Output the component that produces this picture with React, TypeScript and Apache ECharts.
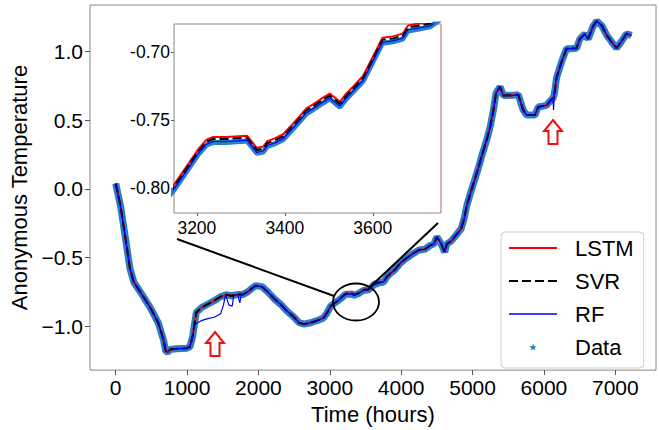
import React, { useEffect, useRef } from 'react';
import * as echarts from 'echarts';

// ---- data ----
const hours = [
  0, 70, 140, 200, 255, 370, 490, 600, 670, 700,
  730, 760, 850, 1000, 1040, 1080, 1100, 1130, 1200, 1290,
  1380, 1470, 1510, 1540, 1585, 1632, 1655, 1710, 1739, 1760,
  1780, 1850, 1920, 1960, 2050, 2130, 2220, 2310, 2400, 2490,
  2570, 2640, 2730, 2820, 2910, 2960, 3010, 3060, 3100, 3148,
  3161, 3184, 3203, 3222, 3237, 3267, 3314, 3324, 3336, 3351,
  3360, 3377, 3396, 3419, 3449, 3464, 3487, 3502, 3525, 3540,
  3555, 3578, 3597, 3622, 3646, 3668, 3680, 3714, 3730, 3760,
  3800, 3850, 3900, 3990, 4060, 4170, 4250, 4330, 4410, 4460,
  4500, 4560, 4610, 4640, 4700, 4780, 4840, 4880, 4920, 4965,
  5020, 5080, 5140, 5200, 5250, 5290, 5330, 5385, 5431, 5500,
  5547, 5640, 5710, 5757, 5874, 5920, 6037, 6093, 6125, 6135,
  6145, 6177, 6250, 6317, 6380, 6457, 6503, 6573, 6620, 6690,
  6740, 6810, 6880, 6950, 7016, 7080, 7156, 7190, 7226,
];

const dataValues = [
  0.04, -0.13, -0.37, -0.58, -0.68, -0.77, -0.87, -0.98, -1.1, -1.18,
  -1.19, -1.17, -1.165, -1.16, -1.15, -1.07, -1.0, -0.9, -0.865, -0.84,
  -0.815, -0.785, -0.78, -0.77, -0.775, -0.78, -0.775, -0.77, -0.77, -0.77,
  -0.77, -0.75, -0.72, -0.705, -0.712, -0.75, -0.8, -0.84, -0.89, -0.93,
  -0.975, -0.985, -0.975, -0.96, -0.94, -0.905, -0.855, -0.835, -0.82, -0.8015,
  -0.7955, -0.7845, -0.7755, -0.7685, -0.7665, -0.7665, -0.7655, -0.7695, -0.7745, -0.7735,
  -0.7695, -0.7675, -0.7645, -0.7565, -0.7455, -0.7425, -0.7375, -0.7345, -0.7405, -0.7345,
  -0.7295, -0.7215, -0.7095, -0.6935, -0.6925, -0.6905, -0.6845, -0.6825, -0.6815, -0.6745,
  -0.64, -0.615, -0.595, -0.54, -0.51, -0.47, -0.445, -0.44, -0.41, -0.4,
  -0.35, -0.4, -0.46, -0.4, -0.38, -0.33, -0.29, -0.22, -0.12, -0.04,
  0.05, 0.15, 0.26, 0.36, 0.46, 0.57, 0.7, 0.744, 0.68, 0.682,
  0.68, 0.687, 0.574, 0.538, 0.538, 0.597, 0.609, 0.644, 0.66, 0.675,
  0.69, 0.81, 0.93, 1.022, 1.022, 1.025, 1.093, 1.128, 1.093, 1.187,
  1.222, 1.19, 1.12, 1.07, 1.025, 1.07, 1.13, 1.125, 1.118,
];

const lstmValues = [
  0.04, -0.13, -0.37, -0.58, -0.68, -0.77, -0.87, -0.98, -1.1, -1.18,
  -1.19, -1.17, -1.165, -1.16, -1.15, -1.07, -1.0, -0.9, -0.865, -0.84,
  -0.815, -0.785, -0.78, -0.77, -0.775, -0.78, -0.775, -0.77, -0.77, -0.77,
  -0.77, -0.75, -0.72, -0.705, -0.712, -0.75, -0.8, -0.84, -0.89, -0.93,
  -0.975, -0.985, -0.975, -0.96, -0.94, -0.905, -0.855, -0.835, -0.82, -0.7975,
  -0.7915, -0.7805, -0.7715, -0.7645, -0.7625, -0.7625, -0.7615, -0.7655, -0.7705, -0.7695,
  -0.7655, -0.7635, -0.7605, -0.7525, -0.7415, -0.7385, -0.7335, -0.7305, -0.7365, -0.7305,
  -0.7255, -0.7175, -0.7055, -0.6895, -0.6885, -0.6865, -0.6805, -0.6785, -0.6775, -0.6705,
  -0.64, -0.615, -0.595, -0.54, -0.51, -0.47, -0.445, -0.44, -0.41, -0.4,
  -0.35, -0.4, -0.46, -0.4, -0.38, -0.33, -0.29, -0.22, -0.12, -0.04,
  0.05, 0.15, 0.26, 0.36, 0.46, 0.57, 0.7, 0.744, 0.68, 0.682,
  0.68, 0.687, 0.574, 0.538, 0.538, 0.597, 0.609, 0.644, 0.66, 0.675,
  0.69, 0.81, 0.93, 1.022, 1.022, 1.025, 1.093, 1.128, 1.093, 1.187,
  1.222, 1.19, 1.12, 1.07, 1.025, 1.07, 1.13, 1.125, 1.118,
];

const svrValues = [
  0.04, -0.13, -0.37, -0.58, -0.68, -0.77, -0.87, -0.98, -1.1, -1.18,
  -1.19, -1.17, -1.165, -1.16, -1.15, -1.07, -1.0, -0.9, -0.865, -0.84,
  -0.815, -0.785, -0.78, -0.77, -0.775, -0.78, -0.775, -0.77, -0.77, -0.77,
  -0.77, -0.75, -0.72, -0.705, -0.712, -0.75, -0.8, -0.84, -0.89, -0.93,
  -0.975, -0.985, -0.975, -0.96, -0.94, -0.905, -0.855, -0.835, -0.82, -0.799,
  -0.793, -0.782, -0.773, -0.766, -0.764, -0.764, -0.763, -0.767, -0.772, -0.771,
  -0.767, -0.765, -0.762, -0.754, -0.743, -0.74, -0.735, -0.732, -0.738, -0.732,
  -0.727, -0.719, -0.707, -0.691, -0.69, -0.688, -0.682, -0.68, -0.679, -0.672,
  -0.64, -0.615, -0.595, -0.54, -0.51, -0.47, -0.445, -0.44, -0.41, -0.4,
  -0.35, -0.4, -0.46, -0.4, -0.38, -0.33, -0.29, -0.22, -0.12, -0.04,
  0.05, 0.15, 0.26, 0.36, 0.46, 0.57, 0.7, 0.744, 0.68, 0.682,
  0.68, 0.687, 0.574, 0.538, 0.538, 0.597, 0.609, 0.644, 0.66, 0.675,
  0.69, 0.81, 0.93, 1.022, 1.022, 1.025, 1.093, 1.128, 1.093, 1.187,
  1.222, 1.19, 1.12, 1.07, 1.025, 1.07, 1.13, 1.125, 1.118,
];

const rfValues = [
  0.04, -0.13, -0.37, -0.58, -0.68, -0.77, -0.87, -0.98, -1.1, -1.18,
  -1.19, -1.17, -1.165, -1.16, -1.15, -1.07, -1.0, -0.98, -0.96, -0.945,
  -0.935, -0.91, -0.845, -0.77, -0.845, -0.855, -0.777, -0.77, -0.83, -0.77,
  -0.77, -0.75, -0.72, -0.705, -0.712, -0.75, -0.8, -0.84, -0.89, -0.93,
  -0.975, -0.985, -0.975, -0.96, -0.94, -0.905, -0.855, -0.835, -0.82, -0.8008,
  -0.7948, -0.7838, -0.7748, -0.7678, -0.7658, -0.7658, -0.7648, -0.7688, -0.7738, -0.7728,
  -0.7688, -0.7668, -0.7638, -0.7558, -0.7448, -0.7418, -0.7368, -0.7338, -0.7398, -0.7338,
  -0.7288, -0.7208, -0.7088, -0.6928, -0.6918, -0.6898, -0.6838, -0.6818, -0.6808, -0.6738,
  -0.64, -0.615, -0.595, -0.54, -0.51, -0.47, -0.445, -0.44, -0.41, -0.4,
  -0.35, -0.4, -0.46, -0.4, -0.38, -0.33, -0.29, -0.22, -0.12, -0.04,
  0.05, 0.15, 0.26, 0.36, 0.46, 0.57, 0.7, 0.744, 0.68, 0.682,
  0.68, 0.687, 0.574, 0.538, 0.538, 0.597, 0.609, 0.644, 0.66, 0.575,
  0.69, 0.81, 0.93, 1.022, 1.022, 1.025, 1.093, 1.128, 1.093, 1.187,
  1.222, 1.19, 1.12, 1.07, 1.025, 1.07, 1.13, 1.125, 1.118,
];

const xTicks = [0, 1000, 2000, 3000, 4000, 5000, 6000, 7000];
const yTicks = [-1.0, -0.5, 0.0, 0.5, 1.0];
const insetXTicks = [3200, 3400, 3600];
const insetYTicks = [-0.8, -0.75, -0.7];
const xName = 'Time (hours)';
const yName = 'Anonymous Temperature';

const pairs = (vals: number[]) => hours.map((h, i) => [h, vals[i]]);

const FONT = '"Liberation Sans", Arial, sans-serif';
const STAR =
  'path://M50,0 L61,35 L98,35 L68,57 L79,91 L50,70 L21,91 L32,57 L2,35 L39,35 Z';
const SOLID_ICON = 'path://M0,0 h48 v2.2 h-48 Z';
const THIN_ICON = 'path://M0,0 h48 v1.4 h-48 Z';
const DASH_ICON =
  'path://M0,0 h9 v2 h-9 Z M13,0 h9 v2 h-9 Z M26,0 h9 v2 h-9 Z M39,0 h9 v2 h-9 Z';

function upArrow(cx: number, top: number) {
  return {
    type: 'polygon',
    shape: {
      points: [
        [cx, top],
        [cx + 9, top + 11],
        [cx + 4.5, top + 11],
        [cx + 4.5, top + 24],
        [cx - 4.5, top + 24],
        [cx - 4.5, top + 11],
        [cx - 9, top + 11],
      ],
    },
    style: { fill: '#fff', stroke: '#ee1111', lineWidth: 2 },
    z: 20,
  };
}

export default function App() {
  const ref = useRef<HTMLDivElement>(null);

  useEffect(() => {
    if (!ref.current) return;
    const chart = echarts.init(ref.current, null, { renderer: 'svg' });

    const makeSeries = (g: number, bandWidth: number) => [
      {
        name: 'Data',
        type: 'line',
        xAxisIndex: g,
        yAxisIndex: g,
        data: pairs(dataValues),
        symbol: 'none',
        clip: true,
        lineStyle: { color: '#2a7fc0', width: bandWidth },
        itemStyle: { color: '#1f77b4' },
        z: 2,
      },
      {
        name: 'LSTM',
        type: 'line',
        xAxisIndex: g,
        yAxisIndex: g,
        data: pairs(lstmValues),
        symbol: 'none',
        clip: true,
        lineStyle: { color: '#ff0000', width: 2 },
        itemStyle: { color: '#ff0000' },
        z: 3,
      },
      {
        name: 'SVR',
        type: 'line',
        xAxisIndex: g,
        yAxisIndex: g,
        data: pairs(svrValues),
        symbol: 'none',
        clip: true,
        lineStyle: { color: '#000000', width: 2, type: [9, 4] },
        itemStyle: { color: '#000000' },
        z: 4,
      },
      {
        name: 'RF',
        type: 'line',
        xAxisIndex: g,
        yAxisIndex: g,
        data: pairs(rfValues),
        symbol: 'none',
        clip: true,
        lineStyle: { color: '#0000ff', width: 1.2 },
        itemStyle: { color: '#0000ff' },
        z: 5,
      },
    ];

    const tickStyle = { color: '#555' };

    chart.setOption({
      animation: false,
      backgroundColor: '#ffffff',
      grid: [
        {
          left: 90,
          top: 5,
          width: 566,
          height: 375,
          show: true,
          borderColor: '#888',
          borderWidth: 1,
          backgroundColor: 'transparent',
        },
        {
          left: 174,
          top: 24,
          width: 267,
          height: 189,
          show: true,
          borderColor: '#888',
          borderWidth: 1,
          backgroundColor: '#fff',
          z: 1,
        },
      ],
      xAxis: [
        {
          type: 'value',
          gridIndex: 0,
          position: 'bottom',
          min: -360,
          max: 7570,
          name: xName,
          nameLocation: 'middle',
          nameGap: 21,
          nameTextStyle: { fontSize: 22, color: '#000', fontFamily: FONT },
          axisLine: { show: false, onZero: false },
          splitLine: { show: false },
          axisTick: { show: true, length: 5, customValues: xTicks, lineStyle: tickStyle },
          axisLabel: {
            customValues: xTicks,
            fontSize: 21,
            color: '#000',
            margin: 7,
            fontFamily: FONT,
            formatter: (v: number) => String(v),
          },
        },
        {
          type: 'value',
          gridIndex: 1,
          position: 'bottom',
          min: 3148,
          max: 3755,
          axisLine: { show: false, onZero: false },
          splitLine: { show: false },
          axisTick: { show: true, length: 3, customValues: insetXTicks, lineStyle: tickStyle },
          axisLabel: {
            customValues: insetXTicks,
            fontSize: 17.5,
            color: '#000',
            margin: 6,
            fontFamily: FONT,
            formatter: (v: number) => String(v),
          },
        },
      ],
      yAxis: [
        {
          type: 'value',
          gridIndex: 0,
          position: 'left',
          min: -1.32,
          max: 1.34,
          name: yName,
          nameLocation: 'middle',
          nameGap: 54,
          nameTextStyle: { fontSize: 22, color: '#000', fontFamily: FONT },
          axisLine: { show: false, onZero: false },
          splitLine: { show: false },
          axisTick: { show: true, length: 5, customValues: yTicks, lineStyle: tickStyle },
          axisLabel: {
            customValues: yTicks,
            fontSize: 21,
            color: '#000',
            margin: 7,
            fontFamily: FONT,
            formatter: (v: number) =>
              (v < 0 ? '\u2212' : '') + Math.abs(v).toFixed(1),
          },
        },
        {
          type: 'value',
          gridIndex: 1,
          position: 'left',
          min: -0.8184,
          max: -0.6794,
          axisLine: { show: false, onZero: false },
          splitLine: { show: false },
          axisTick: { show: true, length: 3, customValues: insetYTicks, lineStyle: tickStyle },
          axisLabel: {
            customValues: insetYTicks,
            fontSize: 17.5,
            color: '#000',
            margin: 4,
            fontFamily: FONT,
            formatter: (v: number) => v.toFixed(2),
          },
        },
      ],
      legend: {
        orient: 'vertical',
        left: 501,
        top: 232,
        itemWidth: 48,
        itemHeight: 7,
        itemGap: 11,
        padding: [5, 10, 10, 8],
        selectedMode: false,
        backgroundColor: 'rgba(255,255,255,0.85)',
        borderColor: '#cfcfcf',
        borderWidth: 1,
        borderRadius: 4,
        textStyle: {
          fontSize: 22,
          lineHeight: 22,
          color: '#000',
          fontFamily: FONT,
          padding: [0, 0, 0, 13],
        },
        data: [
          { name: 'LSTM', icon: SOLID_ICON, itemStyle: { color: '#ff0000' } },
          { name: 'SVR', icon: DASH_ICON, itemStyle: { color: '#000000' } },
          { name: 'RF', icon: THIN_ICON, itemStyle: { color: '#0000ff' } },
          { name: 'Data', icon: STAR, itemStyle: { color: '#1f77b4' } },
        ],
      },
      series: [...makeSeries(0, 7), ...makeSeries(1, 5)],
      graphic: {
        elements: [
          {
            type: 'line',
            shape: { x1: 441, y1: 24, x2: 441, y2: 213 },
            style: { stroke: '#ff9d9d', lineWidth: 1 },
            z: 20,
          },
          {
            type: 'line',
            shape: { x1: 177, y1: 239, x2: 334, y2: 296 },
            style: { stroke: '#000', lineWidth: 2 },
            z: 20,
          },
          {
            type: 'line',
            shape: { x1: 438, y1: 223, x2: 370, y2: 287 },
            style: { stroke: '#000', lineWidth: 2 },
            z: 20,
          },
          {
            type: 'ellipse',
            shape: { cx: 356, cy: 302, rx: 23, ry: 18.5 },
            style: { fill: 'none', stroke: '#000', lineWidth: 1.8 },
            z: 20,
          },
          upArrow(215, 332),
          upArrow(553, 120),
        ],
      },
    });

    return () => chart.dispose();
  }, []);

  return (
    <div
      ref={ref}
      style={{ position: 'fixed', left: 0, top: 0, width: 659, height: 430 }}
    />
  );
}
